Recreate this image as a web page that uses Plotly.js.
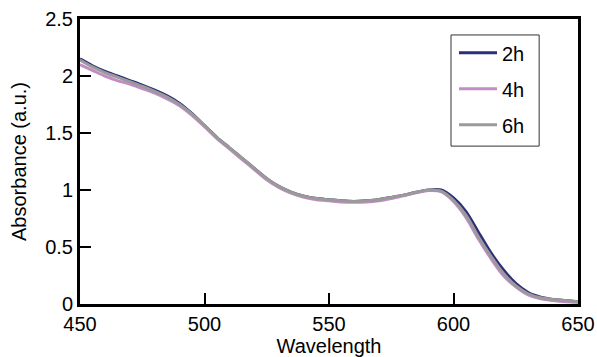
<!DOCTYPE html>
<html>
<head>
<meta charset="utf-8">
<script src="https://cdn.plot.ly/plotly-3.0.1.min.js"></script>
<style>html,body{margin:0;padding:0;background:#fff;}#chart{width:597px;height:357px;}</style>
</head>
<body>
<div id="chart"></div>
<script>
const wavelength = [450,455,460,465,470,475,480,485,490,495,500,505,510,515,520,525,530,535,540,545,550,555,560,565,570,575,580,585,590,595,600,605,610,615,620,625,630,635,640,645,650];
const abs2h = [2.15,2.09,2.04,2.00,1.96,1.92,1.875,1.825,1.76,1.67,1.565,1.46,1.37,1.28,1.19,1.10,1.03,0.98,0.945,0.925,0.915,0.905,0.90,0.905,0.915,0.935,0.955,0.98,1.00,1.00,0.93,0.81,0.63,0.45,0.30,0.18,0.10,0.06,0.04,0.03,0.02];
const abs4h = [2.10,2.05,2.00,1.96,1.93,1.89,1.85,1.80,1.74,1.655,1.555,1.45,1.36,1.27,1.18,1.09,1.02,0.97,0.935,0.915,0.905,0.895,0.892,0.895,0.905,0.925,0.95,0.975,0.995,0.985,0.90,0.76,0.57,0.40,0.25,0.15,0.08,0.045,0.03,0.02,0.015];
const abs6h = [2.14,2.08,2.03,1.99,1.95,1.91,1.865,1.815,1.75,1.665,1.565,1.46,1.37,1.28,1.19,1.10,1.03,0.98,0.945,0.925,0.915,0.905,0.90,0.905,0.915,0.935,0.955,0.98,1.00,0.99,0.91,0.78,0.59,0.42,0.27,0.16,0.09,0.055,0.04,0.03,0.02];
const seriesNames = ['2h','4h','6h'];
const seriesColors = ['#2d2d78','#c48cc4','#9a9a9a'];
const seriesData = [abs2h, abs4h, abs6h];
const xTicks = [450,500,550,600,650];
const yTicks = [0,0.5,1,1.5,2,2.5];

const traces = seriesData.map((y,i)=>({
  x: wavelength, y: y, type:'scatter', mode:'lines', name: seriesNames[i],
  legendgroup: 'g'+i,
  line:{color: seriesColors[i], width:3, shape:'spline', smoothing:0.8}
}));

const font = {family:'Liberation Sans, Arial, sans-serif', size:20, color:'#000'};
const layout = {
  width:597, height:357,
  margin:{l:80, r:19, t:19, b:53},
  paper_bgcolor:'#fff', plot_bgcolor:'#fff',
  font: font,
  showlegend:true,
  legend:{x:0.751, y:0.95, xanchor:'left', yanchor:'top', borderwidth:0,
          bgcolor:'rgba(0,0,0,0)', font:font, tracegroupgap:7, traceorder:'grouped', itemwidth:38},
  shapes:[{type:'rect', xref:'paper', yref:'paper', x0:0.745, x1:0.922, y0:0.554, y1:0.944,
           line:{color:'#333', width:1}, fillcolor:'rgba(0,0,0,0)', layer:'above'}],
  xaxis:{range:[450,650], tickvals:xTicks, ticktext:xTicks.map(String), ticks:'inside', ticklen:11, tickwidth:2,
         tickcolor:'#000', showline:true, linecolor:'#000', linewidth:3, mirror:true, showgrid:false, zeroline:false,
         tickfont:font, title:{text:'Wavelength', font:font, standoff:2}, automargin:false},
  yaxis:{range:[0,2.5], tickvals:yTicks, ticktext:yTicks.map(String), ticks:'inside', ticklen:11, tickwidth:2,
         tickcolor:'#000', showline:true, linecolor:'#000', linewidth:3, mirror:true, showgrid:false, zeroline:false,
         tickfont:font, title:{text:'Absorbance (a.u.)', font:font, standoff:14}, automargin:false}
};
Plotly.newPlot('chart', traces, layout, {displayModeBar:false, staticPlot:true});
</script>
</body>
</html>
